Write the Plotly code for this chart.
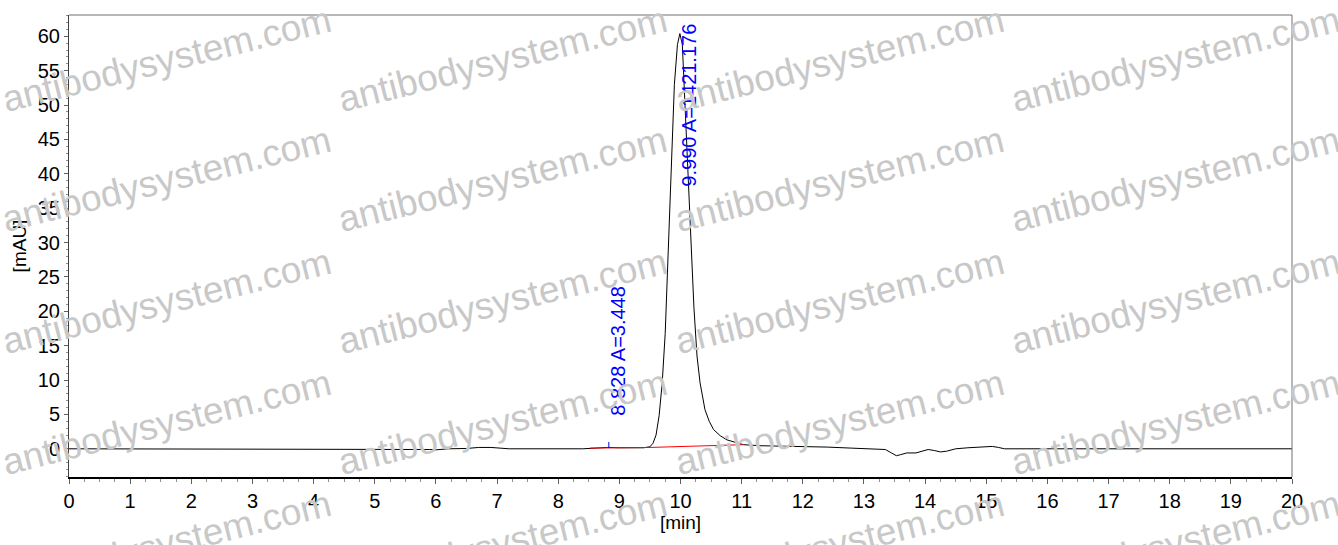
import plotly.graph_objects as go

# ---- data ----
time_min = [0, 5.8, 5.9, 6.0, 6.1, 6.2, 6.5, 6.7, 6.9, 7.05, 7.2, 8.4, 8.6, 8.8, 9.0, 9.2, 9.4,
            9.5, 9.55, 9.6, 9.65, 9.7, 9.75, 9.8, 9.85, 9.9, 9.95, 9.99, 10.03, 10.07, 10.12,
            10.17, 10.22, 10.27, 10.32, 10.4, 10.47, 10.54, 10.65, 10.76, 10.9, 11.03, 11.3,
            11.6, 12.0, 12.4, 12.8, 13.2, 13.35, 13.45, 13.53, 13.6, 13.7, 13.85, 13.95, 14.05,
            14.15, 14.25, 14.35, 14.5, 14.7, 14.9, 15.1, 15.2, 15.3, 20]
signal_mau = [0, 0, -0.1, -0.15, -0.05, 0, 0.05, 0.2, 0.2, 0.1, 0.0, 0.0, 0.1, 0.2, 0.15, 0.1, 0.15,
              0.3, 0.8, 2.0, 4.8, 9.5, 16.8, 28.9, 42.0, 53.0, 58.8, 60.4, 58.8, 50.7, 42.5,
              31.0, 20.5, 13.5, 9.6, 5.7, 4.0, 2.8, 1.9, 1.3, 0.9, 0.6, 0.45,
              0.4, 0.35, 0.25, 0.1, 0.0, -0.1, -0.6, -1.0, -0.85, -0.6, -0.6, -0.35, -0.1,
              -0.25, -0.45, -0.35, 0.0, 0.15, 0.25, 0.35, 0.2, 0.0, 0]

baseline_x = [8.52, 9.5, 11.02]
baseline_y = [0.1, 0.2, 0.6]

peak_times = [8.828, 9.990]
peak_areas = [3.448, 1421.176]
label_y = [4.5, 37.9]
marker_x = [8.828, 8.828]
marker_y = [0.1, 1.0]

x_ticks = list(range(0, 21))
y_ticks = list(range(0, 61, 5))

watermark = "antibodysystem.com"

# ---- figure ----
fig = go.Figure()
fig.add_trace(go.Scatter(x=time_min, y=signal_mau, mode="lines",
                         line=dict(color="black", width=1), hoverinfo="skip"))
fig.add_trace(go.Scatter(x=baseline_x, y=baseline_y, mode="lines",
                         line=dict(color="red", width=1), hoverinfo="skip"))
fig.add_trace(go.Scatter(x=marker_x, y=marker_y, mode="lines",
                         line=dict(color="blue", width=1), hoverinfo="skip"))

W, H = 1338, 545
L, R, T, B = 69, 46, 15, 68
pw, ph = W - L - R, H - T - B

def px2paper(px, py):
    return (px - L) / pw, (H - B - py) / ph

annotations = []
for t, a, ly in zip(peak_times, peak_areas, label_y):
    annotations.append(dict(x=t, y=ly, xref="x", yref="y", text=f"{t:.3f} A={a:.3f}",
                            textangle=-90, showarrow=False, xanchor="left", yanchor="bottom",
                            xshift=-4,
                            font=dict(family="Liberation Sans", size=20, color="blue")))

col_cx = [166, 502, 839, 1175]
row_cy = [59, 180, 301, 422, 543]
for cx in col_cx:
    for cy in row_cy:
        xp, yp = px2paper(cx, cy)
        annotations.append(dict(x=xp, y=yp, xref="paper", yref="paper", text=watermark,
                                textangle=-14, showarrow=False, xanchor="center", yanchor="middle",
                                font=dict(family="Liberation Sans", size=37, color="rgb(200,200,200)")))

fig.update_layout(
    width=W, height=H,
    margin=dict(l=L, r=R, t=T, b=B, pad=0, autoexpand=False),
    paper_bgcolor="white", plot_bgcolor="white",
    showlegend=False,
    annotations=annotations,
    shapes=[
        dict(type="line", xref="paper", yref="paper", x0=0, x1=1, y0=1, y1=1,
             line=dict(color="#707070", width=1)),
        dict(type="line", xref="paper", yref="paper", x0=1, x1=1, y0=0, y1=1,
             line=dict(color="#707070", width=1)),
    ],
    xaxis=dict(range=[0, 20], tickvals=x_ticks, ticktext=[str(v) for v in x_ticks],
               showgrid=False, zeroline=False, showline=True, linecolor="black", linewidth=2,
               ticks="outside", ticklen=5, tickcolor="#606060", tickwidth=1, automargin=False,
               minor=dict(dtick=0.25, ticks="outside", ticklen=3, tickcolor="#909090", showgrid=False),
               tickfont=dict(family="Liberation Sans", size=20, color="black"),
               title=dict(text="[min]", standoff=4,
                          font=dict(family="Liberation Sans", size=19, color="black"))),
    yaxis=dict(range=[-4.1, 63.1], tickvals=y_ticks, ticktext=[str(v) for v in y_ticks],
               showgrid=False, zeroline=False, showline=True, linecolor="#404040", linewidth=1,
               ticks="outside", ticklen=4, tickcolor="#606060", tickwidth=1, automargin=False,
               minor=dict(dtick=1, ticks="outside", ticklen=2, tickcolor="#909090", showgrid=False),
               tickfont=dict(family="Liberation Sans", size=20, color="black"),
               title=dict(text="[mAU]", standoff=6,
                          font=dict(family="Liberation Sans", size=19, color="black"))),
)

fig.write_html("out.html", config={"displayModeBar": False},
               post_script="document.body.style.margin='0px';")
